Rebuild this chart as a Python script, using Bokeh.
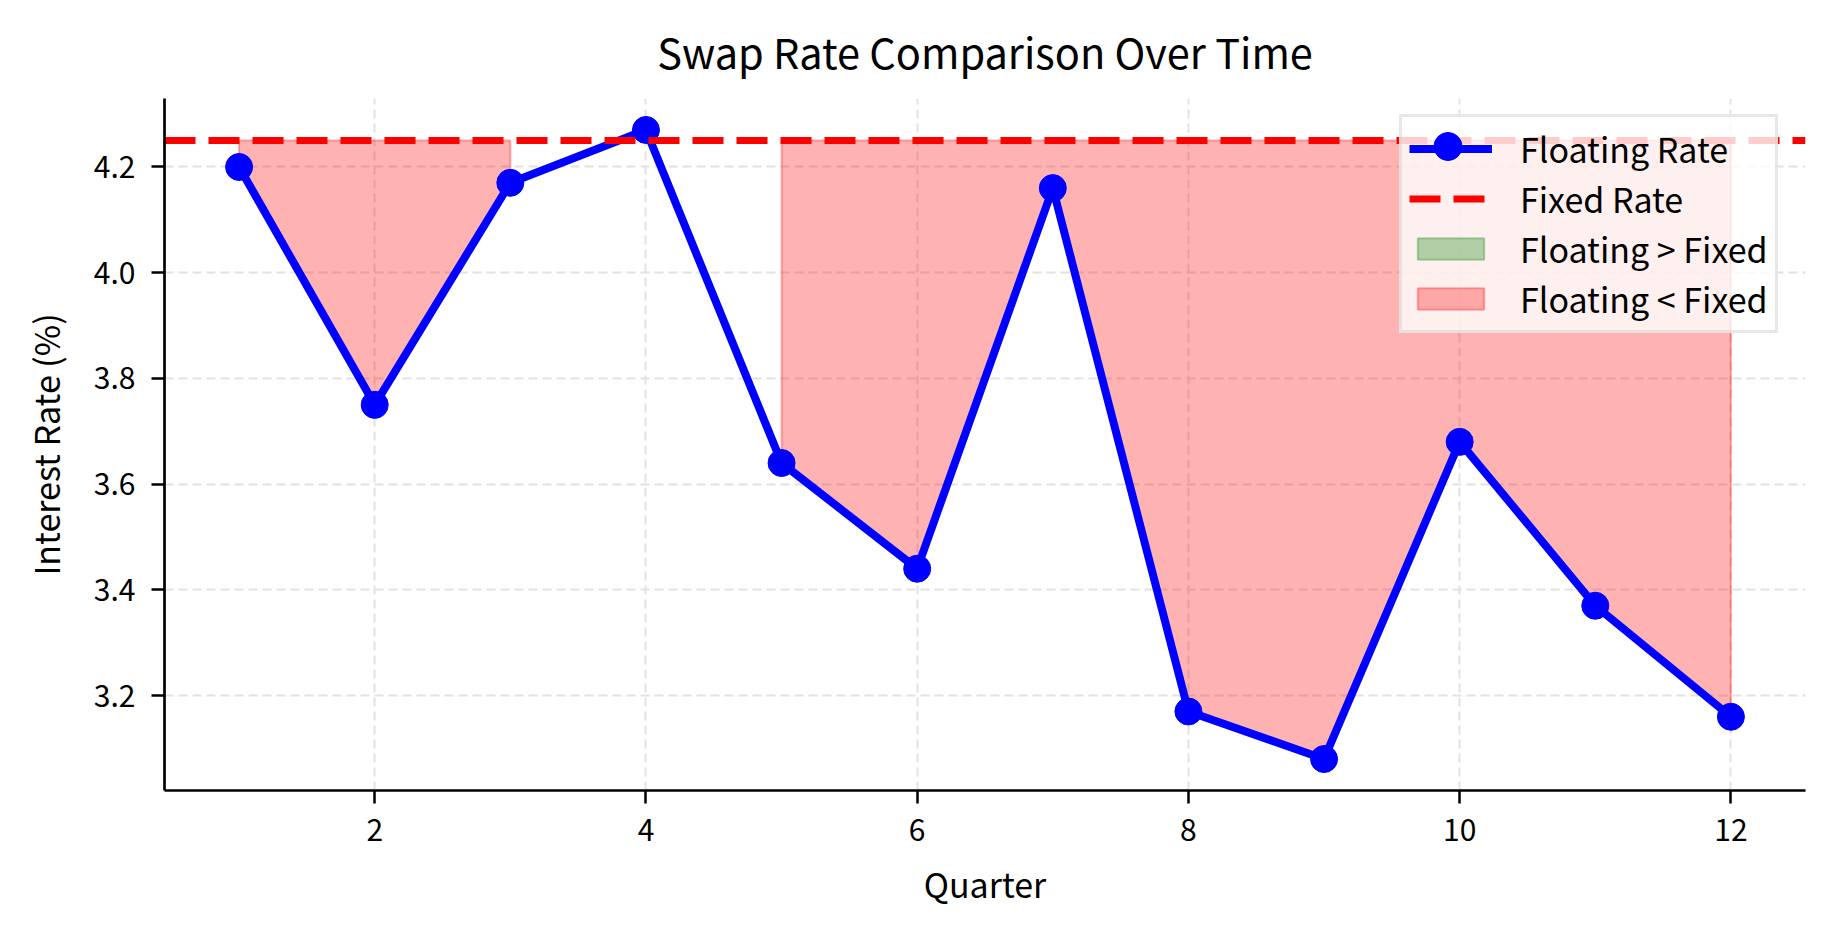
from bokeh.embed import file_html
from bokeh.models import Legend, LegendItem, NumeralTickFormatter, Range1d, Span
from bokeh.plotting import figure
from bokeh.resources import INLINE

quarters = [1, 2, 3, 4, 5, 6, 7, 8, 9, 10, 11, 12]
floating_rate = [4.20, 3.75, 4.17, 4.27, 3.64, 3.44, 4.16, 3.17, 3.08, 3.68, 3.37, 3.16]
fixed_rate = 4.25

x_ticks = [2, 4, 6, 8, 10, 12]
y_ticks = [3.2, 3.4, 3.6, 3.8, 4.0, 4.2]

FONT = "Noto Sans CJK KR"


def fill_regions(x, y, level, above):
    # contiguous runs where the condition holds, closed against the fixed level
    xs, ys = [], []
    run = []
    for xi, yi in list(zip(x, y)) + [(None, None)]:
        inside = xi is not None and ((yi > level) if above else (yi < level))
        if inside:
            run.append((xi, yi))
        elif run:
            rx = [r[0] for r in run]
            ry = [r[1] for r in run]
            xs.append(rx + rx[::-1])
            ys.append(ry + [level] * len(rx))
            run = []
    return xs, ys


p = figure(
    width=1830,
    height=930,
    title="Swap Rate Comparison Over Time",
    x_range=Range1d(0.45, 12.55),
    y_range=Range1d(3.0205, 4.3295),
    output_backend="svg",
    toolbar_location=None,
    min_border_left=164,
    min_border_right=25,
    min_border_top=96,
    min_border_bottom=140,
)
p.outline_line_color = None

p.title.align = "center"
p.title.text_font = FONT
p.title.text_font_size = "41.5px"
p.title.text_font_style = "normal"
p.title.text_color = "black"
p.title.standoff = 36

for grid in (p.xgrid, p.ygrid):
    grid.grid_line_color = "#e2e2e2"
    grid.grid_line_width = 2
    grid.grid_line_dash = "9 5"

p.xaxis.ticker = x_ticks
p.yaxis.ticker = y_ticks
p.yaxis.formatter = NumeralTickFormatter(format="0.0")
p.xaxis.axis_label = "Quarter"
p.yaxis.axis_label = "Interest Rate (%)"
for ax in (p.xaxis, p.yaxis):
    ax.axis_line_width = 2.7
    ax.axis_line_color = "black"
    ax.major_tick_line_width = 2.5
    ax.major_tick_line_color = "black"
    ax.major_tick_out = 13
    ax.major_tick_in = 0
    ax.minor_tick_line_color = None
    ax.major_label_text_font = FONT
    ax.major_label_text_font_size = "30px"
    ax.major_label_text_color = "black"
    ax.axis_label_text_font = FONT
    ax.axis_label_text_font_size = "34px"
    ax.axis_label_text_font_style = "normal"
    ax.axis_label_text_color = "black"
p.xaxis.major_label_standoff = 15
p.xaxis.axis_label_standoff = 15
p.yaxis.major_label_standoff = 16
p.yaxis.axis_label_standoff = 21

below_x, below_y = fill_regions(quarters, floating_rate, fixed_rate, above=False)
above_x, above_y = fill_regions(quarters, floating_rate, fixed_rate, above=True)

green_fill = p.patches(
    above_x, above_y,
    fill_color="green", fill_alpha=0.3,
    line_color="green", line_alpha=0.3, line_width=2,
)
red_fill = p.patches(
    below_x, below_y,
    fill_color="red", fill_alpha=0.3,
    line_color="red", line_alpha=0.3, line_width=2,
)

float_line = p.line(quarters, floating_rate, line_color="blue", line_width=8)
float_pts = p.scatter(quarters, floating_rate, size=27, fill_color="blue", line_color="blue")

fixed_span = Span(
    location=fixed_rate, dimension="width",
    line_color="red", line_width=7, line_dash="31 13", level="glyph",
)
p.add_layout(fixed_span)
# legend stand-in for the horizontal fixed-rate span
fixed_proxy = p.line([quarters[0]], [float("nan")], line_color="red", line_width=7, line_dash="31 13")

legend = Legend(
    items=[
        LegendItem(label="Floating Rate", renderers=[float_line]),
        LegendItem(label="Fixed Rate", renderers=[fixed_proxy]),
        LegendItem(label="Floating > Fixed", renderers=[green_fill]),
        LegendItem(label="Floating < Fixed", renderers=[red_fill]),
    ],
    location=(1235, 457),
    padding=7,
    spacing=1,
    glyph_width=83,
    glyph_height=27,
    label_height=40,
    label_standoff=28,
    label_text_font=FONT,
    label_text_font_size="34px",
    label_text_color="black",
    border_line_color="#d0d0d0",
    border_line_width=3,
    background_fill_alpha=0.8,
)
p.add_layout(legend)

# bigger marker on top of the first legend row
marker_legend = Legend(
    items=[LegendItem(label=" ", renderers=[float_pts])],
    location=(1242, 609),
    padding=0,
    margin=0,
    glyph_width=83,
    glyph_height=70,
    label_standoff=0,
    label_text_font_size="10px",
    border_line_color=None,
    background_fill_color=None,
)
p.add_layout(marker_legend)

open("out.html", "w").write(file_html(p, INLINE))
